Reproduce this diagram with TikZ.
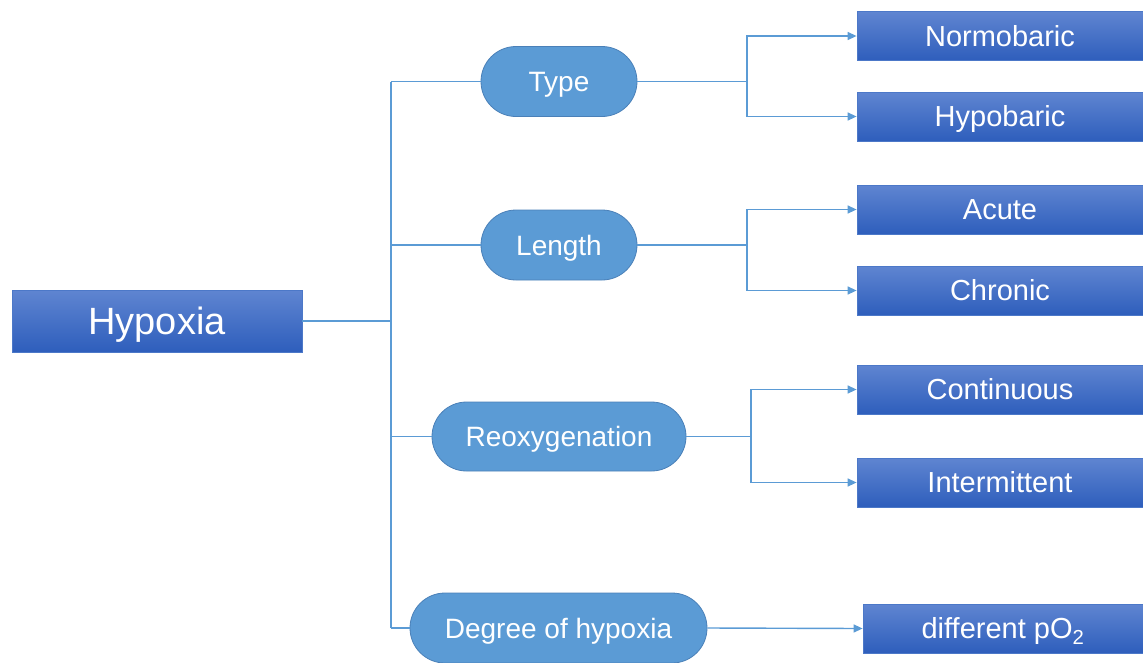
\documentclass[tikz,border=0pt]{standalone}
\usepackage{fontspec}
\setmainfont{Liberation Sans}
\usetikzlibrary{shapes.misc,arrows.meta}
\definecolor{boxtop}{HTML}{5F85D1}
\definecolor{boxbot}{HTML}{2E5EBC}
\definecolor{boxline}{HTML}{4C78C8}
\definecolor{pillfill}{HTML}{5B9BD5}
\definecolor{pillline}{HTML}{4A80B8}
\definecolor{conn}{HTML}{5B9BD5}
\tikzset{
  bluebox/.style={rectangle, top color=boxtop, bottom color=boxbot, draw=boxline, line width=0.8pt,
    inner sep=0pt, text=white, minimum height=49pt, minimum width=286pt, font=\fontsize{29}{34}\selectfont,
    text height=20.8pt, text depth=0pt},
  pill/.style={rounded rectangle, fill=pillfill, draw=pillline, line width=0.8pt, inner sep=0pt,
    text=white, minimum height=70pt, font=\fontsize{28}{33}\selectfont, text height=20pt, text depth=0pt},
  conline/.style={draw=conn, line width=1.4pt},
  arr/.style={conline, -{Triangle[length=9pt,width=8pt]}}
}
\begin{document}
\begin{tikzpicture}[x=1pt,y=-1pt]
\useasboundingbox (0,0) rectangle (1143,662);
% root
\node[bluebox, minimum width=290pt, minimum height=62pt, font=\fontsize{38}{44}\selectfont, text height=27.3pt] (hyp) at (157,321) {Hypoxia};
% second level
\node[pill, minimum width=156pt] (type) at (559,81.5) {Type};
\node[pill, minimum width=156pt] (len) at (559,245) {Length};
\node[pill, minimum width=254pt, minimum height=69pt] (reox) at (559,436.5) {Reoxygenation};
\node[pill, minimum width=297pt] (deg) at (558.5,628) {Degree of hypoxia};
% leaves
\node[bluebox] (norm) at (1000,36) {Normobaric};
\node[bluebox] (hypo) at (1000,116.5) {Hypobaric};
\node[bluebox] (acute) at (1000,209.5) {Acute};
\node[bluebox] (chron) at (1000,290.5) {Chronic};
\node[bluebox] (cont) at (1000,389.5) {Continuous};
\node[bluebox] (inter) at (1000,482.5) {Intermittent};
\node[bluebox, minimum width=280pt] (po2) at (1003,628.5) {different pO\textsubscript{2}};
% bus
\coordinate (bt) at (391,81.5);
\coordinate (bb) at (391,628);
\draw[conline] (bt) -- (bb);
\draw[conline] (hyp.east) -- (hyp.east -| bt);
\draw[conline] (bt) -- (type.west);
\draw[conline] (len.west -| bt) -- (len.west);
\draw[conline] (reox.west -| bt) -- (reox.west);
\draw[conline] (bb) -- (deg.west);
% forks
\coordinate (f1) at (747,81.5);
\draw[conline] (type.east) -- (f1);
\draw[arr] (f1) |- (norm.west);
\draw[arr] (f1) |- (hypo.west);
\coordinate (f2) at (747,245);
\draw[conline] (len.east) -- (f2);
\draw[arr] (f2) |- (acute.west);
\draw[arr] (f2) |- (chron.west);
\coordinate (f3) at (751,436.5);
\draw[conline] (reox.east) -- (f3);
\draw[arr] (f3) |- (cont.west);
\draw[arr] (f3) |- (inter.west);
\draw[arr] (deg.east) -- (po2.west);
\end{tikzpicture}
\end{document}
